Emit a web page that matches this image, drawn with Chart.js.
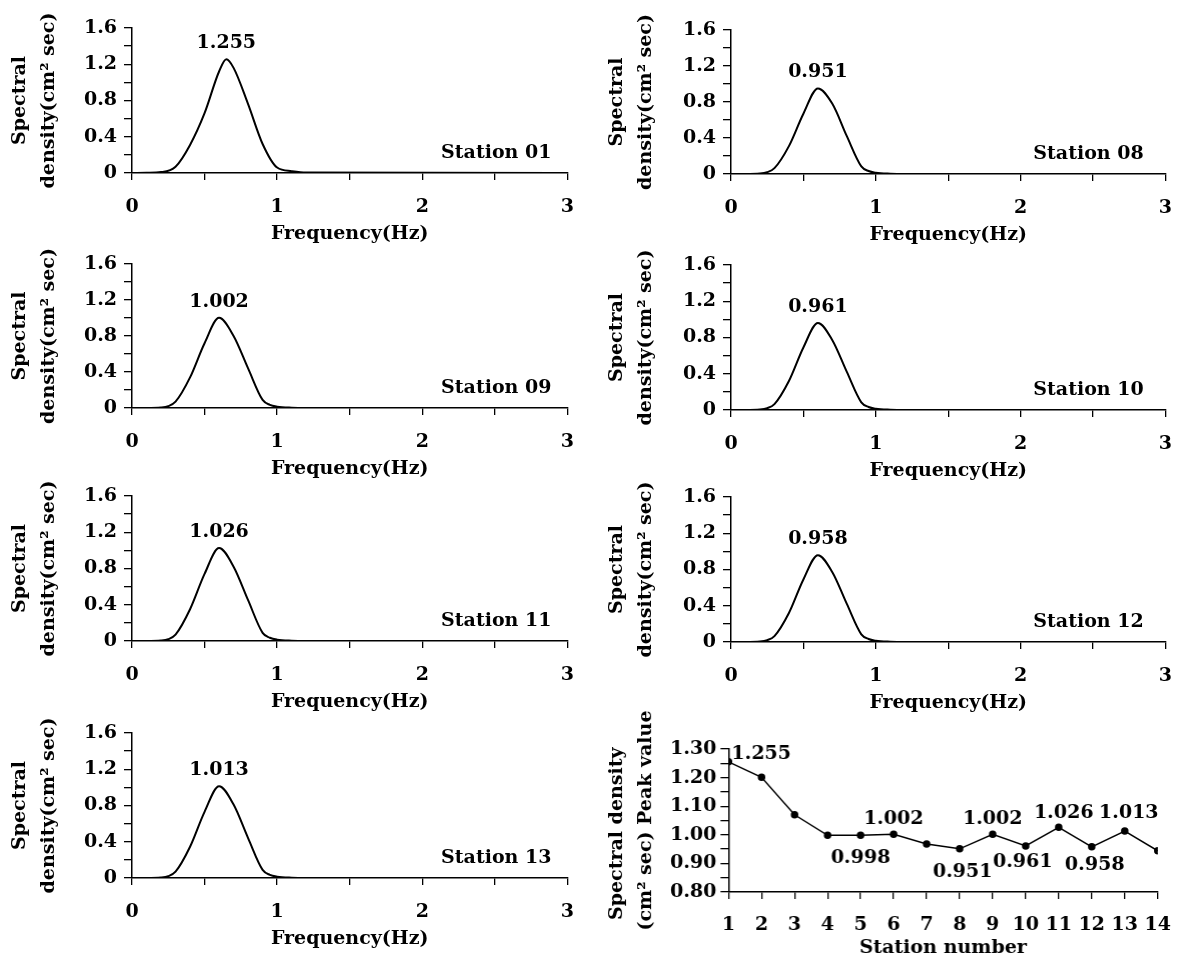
<!DOCTYPE html>
<html>
<head>
<meta charset="utf-8">
<script src="https://cdn.jsdelivr.net/npm/chart.js@4.4.0/dist/chart.umd.min.js"></script>
<style>
  body { margin: 0; background: #fff; }
  #wrap { position: relative; width: 1184px; height: 963px; overflow: hidden; background: #fff; }
  canvas { position: absolute; }
</style>
</head>
<body>
<div id="wrap">
  <canvas id="c01"></canvas>
  <canvas id="c08"></canvas>
  <canvas id="c09"></canvas>
  <canvas id="c10"></canvas>
  <canvas id="c11"></canvas>
  <canvas id="c12"></canvas>
  <canvas id="c13"></canvas>
  <canvas id="cPeak"></canvas>
</div>
<script>
// spectra (Hz / cm2 sec)
const freq01 = [0, 0.1, 0.2, 0.3, 0.4, 0.5, 0.6, 0.65, 0.7, 0.8, 0.9, 1.0, 1.1, 1.2, 3.0];
const dens01 = [0, 0.002, 0.01, 0.07, 0.31, 0.66, 1.12, 1.255, 1.16, 0.76, 0.32, 0.06, 0.02, 0.005, 0];

const freq = [0, 0.1, 0.2, 0.25, 0.3, 0.4, 0.5, 0.6, 0.7, 0.8, 0.9, 0.95, 1.0, 1.1, 1.2, 3.0];
const dens08 = [0, 0, 0.005, 0.02, 0.065, 0.31, 0.67, 0.951, 0.78, 0.42, 0.085, 0.033, 0.014, 0.003, 0, 0];
const dens09 = [0, 0, 0.005, 0.02, 0.07, 0.34, 0.72, 1.002, 0.80, 0.44, 0.09, 0.035, 0.015, 0.003, 0, 0];
const dens10 = [0, 0, 0.005, 0.02, 0.065, 0.32, 0.69, 0.961, 0.77, 0.42, 0.085, 0.033, 0.014, 0.003, 0, 0];
const dens11 = [0, 0, 0.005, 0.02, 0.07, 0.35, 0.74, 1.026, 0.82, 0.45, 0.09, 0.036, 0.015, 0.003, 0, 0];
const dens12 = [0, 0, 0.005, 0.02, 0.065, 0.32, 0.69, 0.958, 0.77, 0.42, 0.085, 0.033, 0.014, 0.003, 0, 0];
const dens13 = [0, 0, 0.005, 0.02, 0.07, 0.345, 0.73, 1.013, 0.81, 0.44, 0.09, 0.035, 0.015, 0.003, 0, 0];

// peak value per station
const stationNo = [1, 2, 3, 4, 5, 6, 7, 8, 9, 10, 11, 12, 13, 14];
const peakValue = [1.255, 1.201, 1.070, 0.998, 0.998, 1.002, 0.968, 0.951, 1.002, 0.961, 1.026, 0.958, 1.013, 0.944];
const labelledStations = [1, 5, 6, 8, 9, 10, 11, 12, 13];

const FAMILY = '"DejaVu Serif", "Liberation Serif", serif';
const FSIZE = 19;
Chart.defaults.font.family = FAMILY;
Chart.defaults.font.size = FSIZE;
Chart.defaults.font.weight = 'bold';
Chart.defaults.color = '#000';

const PAD_R = 18;

// peak value over the curve + station name
const spectralLabels = {
  id: 'spectralLabels',
  afterDatasetsDraw(chart, args, opts) {
    const {ctx, scales: {x, y}} = chart;
    const pts = chart.getDatasetMeta(0).data;
    const vals = chart.data.datasets[0].data.map(d => d.y);
    const k = vals.indexOf(Math.max(...vals));
    ctx.save();
    ctx.font = 'bold ' + FSIZE + 'px ' + FAMILY;
    ctx.fillStyle = '#000';
    ctx.textBaseline = 'middle';
    ctx.textAlign = 'center';
    ctx.fillText(vals[k].toFixed(3), pts[k].x, pts[k].y - 16);
    ctx.textAlign = 'right';
    ctx.fillText(opts.name, x.getPixelForValue(opts.nameAt), y.getPixelForValue(0) - 20);
    ctx.restore();
  }
};

const peakLabels = {
  id: 'peakLabels',
  afterDatasetsDraw(chart, args, opts) {
    const {ctx} = chart;
    const pts = chart.getDatasetMeta(0).data;
    ctx.save();
    ctx.font = 'bold ' + FSIZE + 'px ' + FAMILY;
    ctx.fillStyle = '#000';
    ctx.textBaseline = 'middle';
    opts.items.forEach(it => {
      const i = it.station - 1;
      ctx.textAlign = it.align || 'center';
      ctx.fillText(peakValue[i].toFixed(3), pts[i].x + it.dx, pts[i].y + it.dy);
    });
    ctx.restore();
  }
};

function place(cv, box, xh, padT) {
  const yw = box.aL - box.cl;
  const w = box.aR + PAD_R - box.cl;
  const top = box.aT - padT;
  const h = box.aB + xh - top;
  cv.width = w; cv.height = h;
  cv.style.left = box.cl + 'px';
  cv.style.top = top + 'px';
  cv.style.width = w + 'px';
  cv.style.height = h + 'px';
  return yw;
}

const axisGrid = (len) => ({
  display: true, drawOnChartArea: false, drawTicks: true,
  tickLength: len, color: '#000', lineWidth: 1.3
});

const panels = [
  {id: 'c01', f: freq01, d: dens01, name: 'Station 01', nameAt: 2.89, cl: 6, aL: 132, aR: 572, aT: 27.5, aB: 172.5},
  {id: 'c08', f: freq, d: dens08, name: 'Station 08', nameAt: 2.85, cl: 603, aL: 731, aR: 1170, aT: 30, aB: 174},
  {id: 'c09', f: freq, d: dens09, name: 'Station 09', nameAt: 2.89, cl: 6, aL: 132, aR: 572, aT: 263.5, aB: 407.7},
  {id: 'c10', f: freq, d: dens10, name: 'Station 10', nameAt: 2.85, cl: 603, aL: 731, aR: 1170, aT: 265, aB: 410},
  {id: 'c11', f: freq, d: dens11, name: 'Station 11', nameAt: 2.89, cl: 6, aL: 132, aR: 572, aT: 496, aB: 641},
  {id: 'c12', f: freq, d: dens12, name: 'Station 12', nameAt: 2.85, cl: 603, aL: 731, aR: 1170, aT: 497, aB: 642},
  {id: 'c13', f: freq, d: dens13, name: 'Station 13', nameAt: 2.89, cl: 6, aL: 132, aR: 572, aT: 733, aB: 878}
];

panels.forEach(p => {
  const cv = document.getElementById(p.id);
  const XH = 75, PAD_T = 30;
  const yw = place(cv, p, XH, PAD_T);
  new Chart(cv, {
    type: 'scatter',
    data: {
      datasets: [{
        data: p.f.map((v, i) => ({x: v, y: p.d[i]})),
        showLine: true,
        borderColor: '#000',
        borderWidth: 2,
        pointRadius: 0,
        cubicInterpolationMode: 'monotone'
      }]
    },
    options: {
      responsive: false,
      animation: false,
      devicePixelRatio: 1,
      layout: {padding: {top: PAD_T, right: PAD_R, left: 0, bottom: 0}},
      plugins: {legend: {display: false}, tooltip: {enabled: false},
        spectralLabels: {name: p.name, nameAt: p.nameAt}},
      scales: {
        x: {
          type: 'linear', min: 0, max: 3,
          grid: axisGrid(7),
          border: {display: true, color: '#000', width: 1.5},
          ticks: {stepSize: 0.5, autoSkip: false, maxRotation: 0, padding: 16,
            callback: v => Number.isInteger(v) ? String(v) : ''},
          title: {display: true, text: 'Frequency(Hz)', padding: {top: 0, bottom: 3}},
          afterFit: s => { s.height = XH; }
        },
        y: {
          type: 'linear', min: 0, max: 1.6,
          grid: axisGrid(8),
          border: {display: true, color: '#000', width: 1.5},
          ticks: {stepSize: 0.2, autoSkip: false, padding: 7,
            callback: v => {
              const k = Math.round(v * 10);
              if (k % 4 !== 0) return '';
              return k === 0 ? '0' : (k / 10).toFixed(1);
            }},
          title: {display: true, text: ['Spectral', 'density(cm² sec)'],
            font: {size: FSIZE, weight: 'bold', lineHeight: 1.5}, padding: 0},
          afterFit: s => { s.width = yw; }
        }
      }
    },
    plugins: [spectralLabels]
  });
});

// peak value vs station number
(function () {
  const box = {cl: 603, aL: 728.3, aR: 1167.7, aT: 749, aB: 892};
  const XH = 70, PAD_T = 56;
  const cv = document.getElementById('cPeak');
  const yw = place(cv, box, XH, PAD_T);
  new Chart(cv, {
    type: 'scatter',
    data: {
      datasets: [{
        data: stationNo.map((s, i) => ({x: s, y: peakValue[i]})),
        showLine: true,
        borderColor: '#000',
        backgroundColor: '#000',
        borderWidth: 1.5,
        pointRadius: 3,
        tension: 0
      }]
    },
    options: {
      responsive: false,
      animation: false,
      devicePixelRatio: 1,
      layout: {padding: {top: PAD_T, right: PAD_R, left: 0, bottom: 0}},
      plugins: {legend: {display: false}, tooltip: {enabled: false},
        peakLabels: {items: [
          {station: 1, dx: 3, dy: -8, align: 'left'},
          {station: 5, dx: 0, dy: 23},
          {station: 6, dx: 0, dy: -15},
          {station: 8, dx: 3, dy: 23},
          {station: 9, dx: 0, dy: -15},
          {station: 10, dx: -3, dy: 16},
          {station: 11, dx: 5, dy: -14},
          {station: 12, dx: 3, dy: 18},
          {station: 13, dx: 4, dy: -18}
        ].filter(it => labelledStations.includes(it.station))}},
      scales: {
        x: {
          type: 'linear', min: 1, max: 14,
          grid: axisGrid(7),
          border: {display: true, color: '#000', width: 1.5},
          ticks: {stepSize: 1, autoSkip: false, maxRotation: 0, padding: 15},
          title: {display: true, text: 'Station number', padding: {top: 0, bottom: 3}},
          afterFit: s => { s.height = XH; }
        },
        y: {
          type: 'linear', min: 0.8, max: 1.3,
          grid: axisGrid(8),
          border: {display: true, color: '#000', width: 1.5},
          ticks: {stepSize: 0.05, autoSkip: false, padding: 4,
            callback: v => {
              const k = Math.round(v * 100);
              return k % 10 === 0 ? (k / 100).toFixed(2) : '';
            }},
          title: {display: true, text: ['Spectral density    ', '(cm² sec) Peak value'],
            font: {size: FSIZE, weight: 'bold', lineHeight: 1.5}, padding: 0},
          afterFit: s => { s.width = yw; }
        }
      }
    },
    plugins: [peakLabels]
  });
})();
</script>
</body>
</html>
